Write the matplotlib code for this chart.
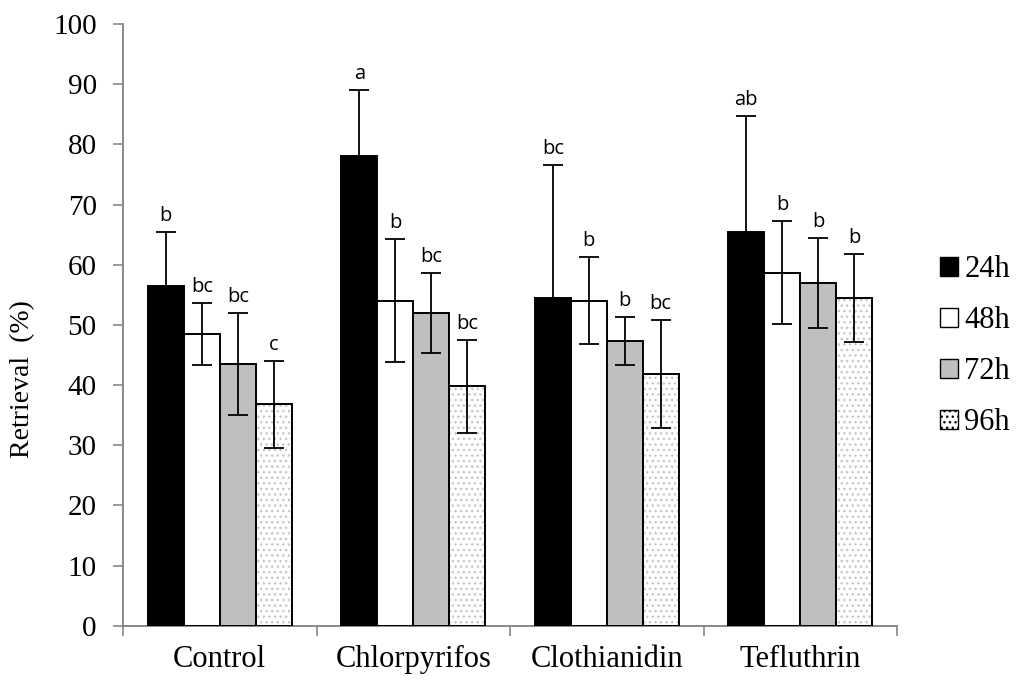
import numpy as np
import matplotlib.pyplot as plt
from matplotlib.patches import Patch

treatments = ["Control", "Chlorpyrifos", "Clothianidin", "Tefluthrin"]
times = ["24h", "48h", "72h", "96h"]

# mean retrieval (%) per treatment, one list per time point
mean_24h = [56.5, 78.0, 54.5, 65.5]
mean_48h = [48.5, 54.0, 54.0, 58.7]
mean_72h = [43.5, 52.0, 47.3, 57.0]
mean_96h = [36.8, 39.8, 41.8, 54.4]

err_24h = [9.0, 11.0, 22.0, 19.2]
err_48h = [5.2, 10.2, 7.2, 8.5]
err_72h = [8.5, 6.7, 4.0, 7.5]
err_96h = [7.2, 7.7, 9.0, 7.3]

letters_24h = ["b", "a", "bc", "ab"]
letters_48h = ["bc", "b", "b", "b"]
letters_72h = ["bc", "bc", "b", "b"]
letters_96h = ["c", "bc", "bc", "b"]

means = [mean_24h, mean_48h, mean_72h, mean_96h]
errs = [err_24h, err_48h, err_72h, err_96h]
letters = [letters_24h, letters_48h, letters_72h, letters_96h]
faces = ["black", "white", "#bfbfbf", "white"]

serif = "Liberation Serif"
sans = "Open Sans"
axis_grey = "#888888"

fig = plt.figure(figsize=(10.17, 6.84), dpi=100)
ax = fig.add_axes([0.121, 0.085, 0.761, 0.88])

x = np.arange(len(treatments))
w = 0.186
for i in range(4):
    pos = x + (i - 1.5) * w
    if i == 3:
        # dotted fill drawn separately so the dots stay light grey
        ax.bar(pos, means[i], w, color="white", hatch="...",
               edgecolor="#c6c6c6", linewidth=0, zorder=2)
        ax.bar(pos, means[i], w, color="none", edgecolor="black",
               linewidth=1.4, zorder=3)
    else:
        ax.bar(pos, means[i], w, color=faces[i], edgecolor="black",
               linewidth=1.4, zorder=3)
    ax.errorbar(pos, means[i], yerr=errs[i], fmt="none", ecolor="black",
                elinewidth=1.3, capsize=7, capthick=1.3, zorder=4)
    for px, m, e, lab in zip(pos, means[i], errs[i], letters[i]):
        ax.text(px, m + e + 1.0, lab, ha="center", va="bottom",
                fontsize=14.5, family=sans, color="black")

ax.set_xlim(-0.5, len(treatments) - 0.5)
ax.set_ylim(0, 100)
ax.set_yticks(range(0, 101, 10))
ax.set_xticks(x)
ax.set_xticklabels(treatments, family=serif, fontsize=22)
for lab in ax.get_yticklabels():
    lab.set_family(serif)
    lab.set_fontsize(21)

# category boundary ticks on the x axis
ax.set_xticks(np.arange(-0.5, len(treatments)), minor=True)
ax.tick_params(axis="x", which="major", length=0, pad=14)
ax.tick_params(axis="x", which="minor", length=7, width=1.2,
               color=axis_grey, direction="out")
ax.tick_params(axis="y", length=7, width=1.2, color=axis_grey,
               direction="out", pad=12)

for side in ["top", "right"]:
    ax.spines[side].set_visible(False)
for side in ["left", "bottom"]:
    ax.spines[side].set_color(axis_grey)
    ax.spines[side].set_linewidth(1.4)

ax.set_ylabel("Retrieval  (%)", family=serif, fontsize=20)
ax.yaxis.set_label_coords(-0.113, 0.41)

handles = []
for i, t in enumerate(times):
    if i == 3:
        handles.append(Patch(facecolor="white", edgecolor="black", hatch="...", label=t))
    else:
        handles.append(Patch(facecolor=faces[i], edgecolor="black", label=t))
fig.legend(handles=handles, loc="center left", bbox_to_anchor=(0.924, 0.494),
           frameon=False, prop={"family": serif, "size": 22},
           handlelength=0.6, handleheight=0.6, handletextpad=0.2,
           labelspacing=0.72, borderpad=0, borderaxespad=0)

fig.savefig("out.png", dpi=100)
